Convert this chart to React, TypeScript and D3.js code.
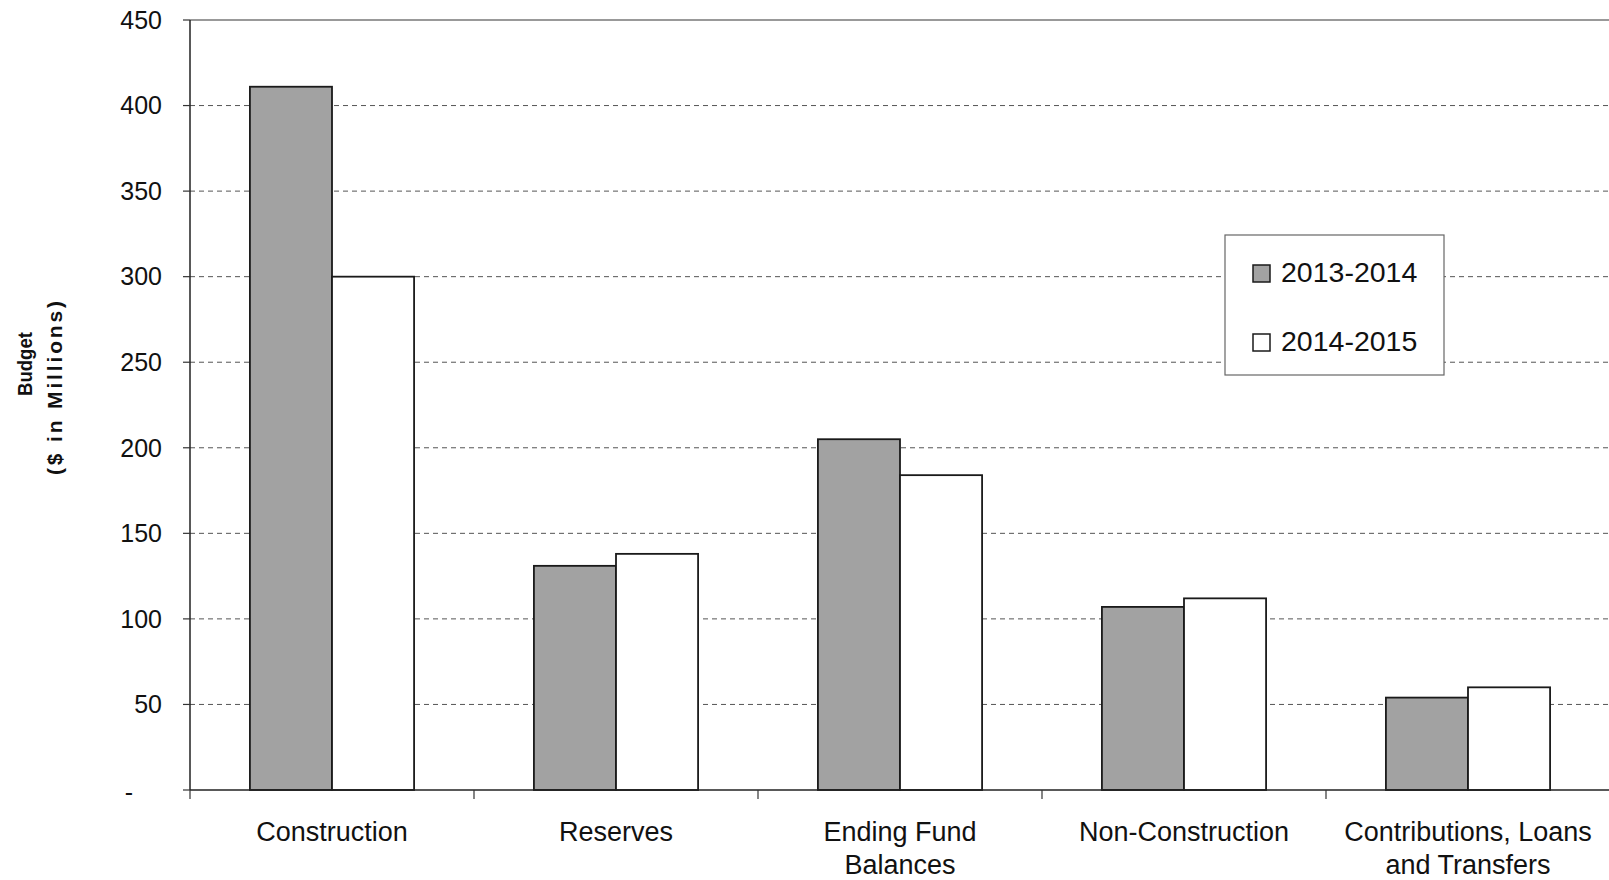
import React, { useEffect } from "react";
import * as d3 from "d3";

const categories: string[][] = [
  ["Construction"],
  ["Reserves"],
  ["Ending Fund", "Balances"],
  ["Non-Construction"],
  ["Contributions, Loans", "and Transfers"],
];
const seriesNames = ["2013-2014", "2014-2015"];
const values2013 = [411, 131, 205, 107, 54];
const values2014 = [300, 138, 184, 112, 60];
const yTicks = [0, 50, 100, 150, 200, 250, 300, 350, 400, 450];

const W = 1609;
const H = 880;
const M = { left: 190, right: 1610, top: 20, bottom: 790 };
const FONT = "'Liberation Sans', Arial, Helvetica, sans-serif";
const GRAY = "#a2a2a2";

export default function App() {
  useEffect(() => {
    document.body.style.margin = "0";
  }, []);

  const keys = categories.map((c) => c.join(" "));
  const x0 = d3.scaleBand<string>().domain(keys).range([M.left, M.right]).paddingInner(0).paddingOuter(0);
  const x1 = d3
    .scaleBand<string>()
    .domain(seriesNames)
    .range([0, x0.bandwidth()])
    .paddingInner(0)
    .paddingOuter(0.73);
  const y = d3.scaleLinear().domain([0, 450]).range([M.bottom, M.top]);
  const series = [values2013, values2014];
  const fills = [GRAY, "#ffffff"];

  return (
    <svg
      width={W}
      height={H}
      style={{ position: "absolute", left: 0, top: 0, display: "block", background: "#fff" }}
      fontFamily={FONT}
    >
      <rect x={0} y={0} width={W} height={H} fill="#fff" />
      {/* gridlines */}
      {yTicks
        .filter((t) => t > 0 && t < 450)
        .map((t) => (
          <line
            key={"g" + t}
            x1={M.left}
            x2={M.right}
            y1={y(t)}
            y2={y(t)}
            stroke="#555"
            strokeWidth={1}
            strokeDasharray="5,4"
          />
        ))}
      {/* top border */}
      <line x1={M.left} x2={M.right} y1={y(450)} y2={y(450)} stroke="#777" strokeWidth={1.3} />
      {/* bars */}
      {keys.map((k, i) => (
        <g key={"b" + k} transform={`translate(${x0(k)},0)`}>
          {seriesNames.map((s, j) => (
            <rect
              key={s}
              x={x1(s)}
              y={y(series[j][i])}
              width={x1.bandwidth()}
              height={y(0) - y(series[j][i])}
              fill={fills[j]}
              stroke="#1a1a1a"
              strokeWidth={1.8}
            />
          ))}
        </g>
      ))}
      {/* axes */}
      <line x1={M.left} x2={M.left} y1={M.top} y2={M.bottom} stroke="#222" strokeWidth={1.5} />
      <line x1={M.left} x2={M.right} y1={M.bottom} y2={M.bottom} stroke="#222" strokeWidth={1.5} />
      {yTicks.map((t) => (
        <line key={"yt" + t} x1={M.left - 7} x2={M.left} y1={y(t)} y2={y(t)} stroke="#333" strokeWidth={1.2} />
      ))}
      {keys.map((k) => (
        <line
          key={"xt" + k}
          x1={x0(k)!}
          x2={x0(k)!}
          y1={M.bottom}
          y2={M.bottom + 9}
          stroke="#333"
          strokeWidth={1.2}
        />
      ))}
      {/* y tick labels */}
      {yTicks.map((t) =>
        t === 0 ? (
          <text key={"yl" + t} x={133} y={y(t) + 2} dy="0.35em" textAnchor="end" fontSize={25} fill="#111">
            -
          </text>
        ) : (
          <text key={"yl" + t} x={162} y={y(t)} dy="0.35em" textAnchor="end" fontSize={25} fill="#111">
            {t}
          </text>
        )
      )}
      {/* category labels */}
      {categories.map((lines, i) => (
        <text
          key={"cl" + i}
          x={x0(keys[i])! + x0.bandwidth() / 2}
          y={841}
          textAnchor="middle"
          fontSize={27}
          fill="#111"
        >
          {lines.map((ln, li) => (
            <tspan key={li} x={x0(keys[i])! + x0.bandwidth() / 2} y={841 + li * 33}>
              {ln}
            </tspan>
          ))}
        </text>
      ))}
      {/* y axis title */}
      <text
        transform="translate(32,364) rotate(-90)"
        textAnchor="middle"
        fontSize={21}
        fontWeight="bold"
        fill="#111"
        textLength={64}
        lengthAdjust="spacingAndGlyphs"
      >
        Budget
      </text>
      <text
        transform="translate(62,388) rotate(-90)"
        textAnchor="middle"
        fontSize={21}
        fontWeight="bold"
        fill="#111"
        textLength={174}
        lengthAdjust="spacing"
      >
        ($ in Millions)
      </text>
      {/* legend */}
      <g>
        <rect x={1225} y={235} width={219} height={140} fill="#fff" stroke="#666" strokeWidth={1.2} />
        {seriesNames.map((s, j) => (
          <g key={"lg" + s}>
            <rect
              x={1253}
              y={265 + j * 69}
              width={17}
              height={17}
              fill={fills[j]}
              stroke="#1a1a1a"
              strokeWidth={1.5}
            />
            <text x={1281} y={282 + j * 69} fontSize={28.5} fill="#111">
              {s}
            </text>
          </g>
        ))}
      </g>
    </svg>
  );
}
